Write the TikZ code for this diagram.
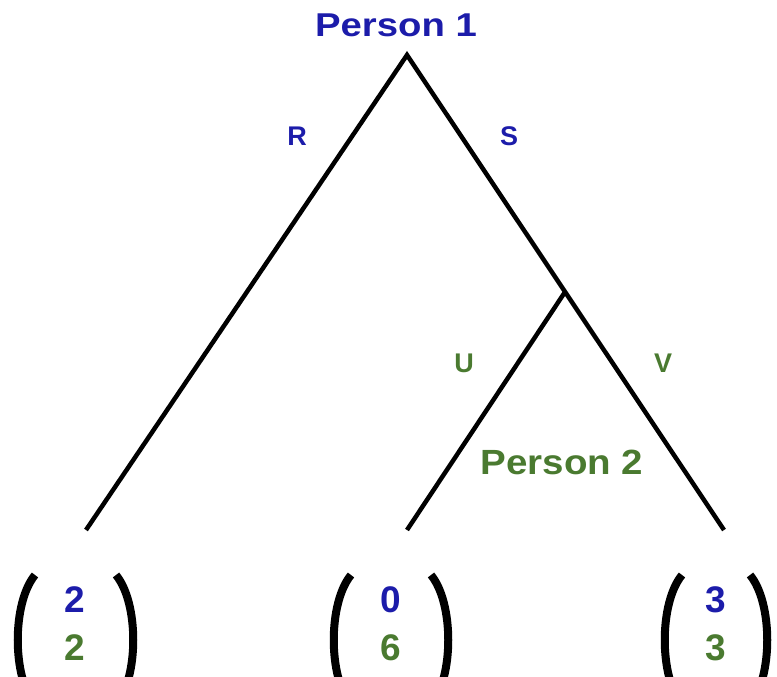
\documentclass[tikz,border=0pt]{standalone}
\usepackage{fontspec}
\setmainfont{Liberation Sans}
\definecolor{pblue}{RGB}{28,28,170}
\definecolor{pgreen}{RGB}{74,122,48}
\begin{document}
\begin{tikzpicture}[x=1pt,y=-1pt,
  branch/.style={line width=4.5pt},
  paren/.style={line width=8pt},
  lbl/.style={inner sep=0pt,font=\bfseries\fontsize{27}{32}\selectfont},
  who/.style={inner sep=0pt,font=\bfseries\fontsize{33}{38}\selectfont},
  num/.style={inner sep=0pt,font=\bfseries\fontsize{37}{42}\selectfont}]
\useasboundingbox (0,0) rectangle (777,677);
\clip (0,0) rectangle (777,677);
% nodes
\coordinate (root) at (407,55);
\coordinate (mid) at (565,292);
\coordinate (leafA) at (86,530);
\coordinate (leafB) at (407,530);
\coordinate (leafC) at (724,530);
% branches
\draw[branch] (leafA) -- (root) -- (leafC);
\draw[branch] (mid) -- (leafB);
% labels
\node[who,text=pblue,xscale=1.16] (p1) at (396,25) {Person 1};
\node[who,text=pgreen,xscale=1.1,font=\bfseries\fontsize{35}{40}\selectfont] (p2) at (562,462) {Person 2};
\node[lbl,text=pblue] (R) at (297,136) {R};
\node[lbl,text=pblue] (S) at (509,136) {S};
\node[lbl,text=pgreen] (U) at (464,363) {U};
\node[lbl,text=pgreen] (V) at (663,363) {V};
% payoffs
\node[num,text=pblue] (a1) at (75,600) {2};
\node[num,text=pgreen] (a2) at (75,648) {2};
\node[num,text=pblue] (b1) at (391,600) {0};
\node[num,text=pgreen] (b2) at (391,648) {6};
\node[num,text=pblue] (c1) at (716,600) {3};
\node[num,text=pgreen] (c2) at (716,648) {3};
% parentheses
\foreach \l/\r in {35/116, 351/431, 682/750}{
  \draw[paren] (\l,575) .. controls (\l-23,603) and (\l-23,677) .. (\l,705);
  \draw[paren] (\r,575) .. controls (\r+23,603) and (\r+23,677) .. (\r,705);
}
\end{tikzpicture}
\end{document}
